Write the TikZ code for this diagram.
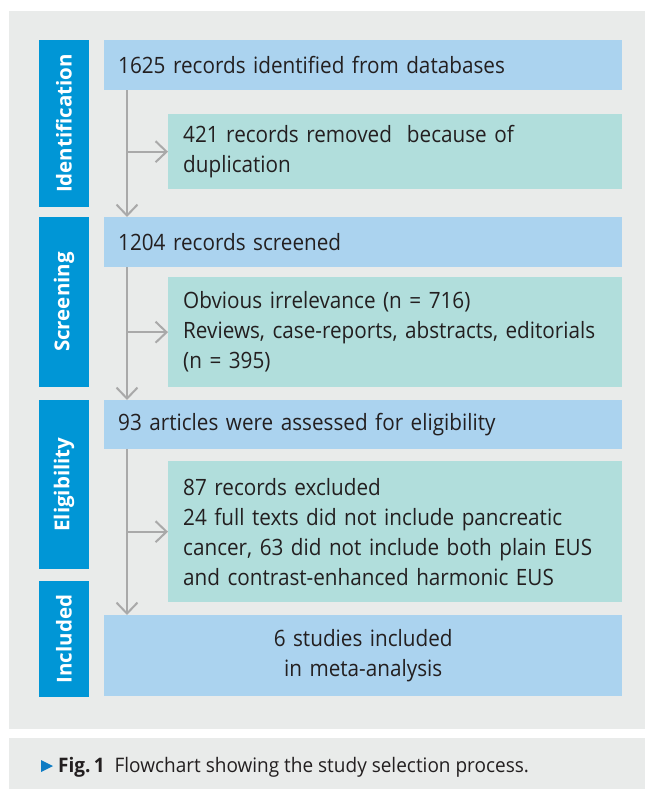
\documentclass[tikz,border=0pt]{standalone}
\usepackage{fontspec}
\setmainfont[FakeStretch=0.92]{Open Sans}
\newfontfamily\labelfont{Open Sans}
\newfontfamily\capfont[FakeStretch=0.95]{Open Sans}
\usetikzlibrary{arrows.meta,calc}
\definecolor{panel}{HTML}{E9EBEA}
\definecolor{barblue}{HTML}{0096D6}
\definecolor{bluebox}{HTML}{ABD3EF}
\definecolor{tealbox}{HTML}{B1DEDC}
\definecolor{ink}{HTML}{231F20}
\definecolor{arrowgray}{HTML}{A9A9A9}
\definecolor{capblue}{HTML}{0E7CC4}
\begin{document}
\begin{tikzpicture}[x=1pt,y=-1pt,
  stagebar/.style={fill=barblue, text=white, rotate=90, minimum height=50pt, inner sep=0pt,
    font=\labelfont\fontsize{20.5}{22}\selectfont\bfseries},
  mainbox/.style={fill=bluebox, anchor=north west, minimum width=518pt, text width=490pt,
    inner xsep=14pt, inner ysep=0pt, align=left, text=ink, font=\fontsize{22.5}{30}\selectfont},
  sidebox/.style={fill=tealbox, anchor=north west, minimum width=454pt, text width=424pt,
    inner xsep=15pt, inner ysep=0pt, align=left, text=ink, font=\fontsize{22.5}{30}\selectfont},
  flow/.style={draw=arrowgray, line width=2pt,
    -{Straight Barb[length=11pt,width=21pt,line width=2pt]}}
]
\useasboundingbox (0,0) rectangle (645,789);
\fill[panel] (9,11) rectangle (645,729);
\fill[panel] (9,738) rectangle (645,789);

% stage bars
\node[stagebar, minimum width=167pt] (sIdent) at (64,123.5) {Identification};
\node[stagebar, minimum width=170pt] (sScreen) at (64,302) {Screening};
\node[stagebar, minimum width=169pt] (sElig) at (64,484.5) {Eligibility};
\node[stagebar, minimum width=116pt] (sIncl) at (64,639) {Included};

% boxes
\node[mainbox, minimum height=50pt] (b1) at (104,40) {1625 records identified from databases};
\node[sidebox, minimum height=75pt] (t1) at (168,114) {421 records removed\ \ because of\\duplication};
\node[mainbox, minimum height=50pt] (b2) at (104,217) {1204 records screened};
\node[sidebox, minimum height=110pt] (t2) at (168,277) {Obvious irrelevance (n = 716)\\Reviews, case-reports, abstracts, editorials\\(n = 395)};
\node[mainbox, minimum height=49pt] (b3) at (104,400) {93 articles were assessed for eligibility};
\node[sidebox, minimum height=141pt] (t3) at (168,461) {87 records excluded\\24 full texts did not include pancreatic\\cancer, 63 did not include both plain EUS\\and contrast-enhanced harmonic EUS};
\node[mainbox, minimum height=81pt, align=center] (b4) at (104,615) {6 studies included\\in meta-analysis};

% connectors
\coordinate (a1) at ($(b1.south west)+(23,0)$);
\coordinate (a2) at ($(b2.south west)+(23,0)$);
\coordinate (a3) at ($(b3.south west)+(23,0)$);
\draw[flow] (a1) -- (a1 |- b2.north);
\draw[flow] (a1 |- t1.west) -- (t1.west);
\draw[flow] (a2) -- (a2 |- b3.north);
\draw[flow] (a2 |- t2.west) -- (t2.west);
\draw[flow] (a3) -- (a3 |- b4.north);
\draw[flow] (a3 |- t3.west) -- (t3.west);

% caption
\fill[capblue] (41,760) -- (53,766) -- (41,772) -- cycle;
\node[anchor=base west, inner sep=0pt, text=ink, font=\capfont\fontsize{20}{24}\selectfont] (cap) at (58,772)
  {\textbf{Fig.\,1}\ \ Flowchart showing the study selection process.};
\end{tikzpicture}
\end{document}
